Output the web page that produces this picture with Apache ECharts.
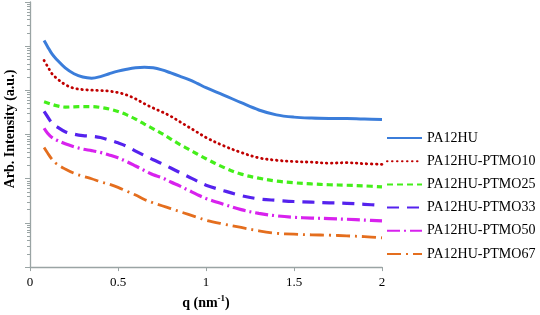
<!DOCTYPE html>
<html><head><meta charset="utf-8">
<script src="https://cdn.jsdelivr.net/npm/echarts@6/dist/echarts.min.js"></script>
<style>html,body{margin:0;padding:0;background:#fff}#c{width:540px;height:315px}</style>
</head><body><div id="c"></div>
<script>
var q = [0.08,0.1,0.125,0.15,0.2,0.25,0.3,0.35,0.4,0.45,0.5,0.55,0.6,0.65,0.7,0.75,0.8,0.85,0.9,0.95,1.0,1.1,1.2,1.3,1.4,1.5,1.6,1.7,1.8,1.9,2.0];
var seriesNames = ['PA12HU','PA12HU-PTMO10','PA12HU-PTMO25','PA12HU-PTMO33','PA12HU-PTMO50','PA12HU-PTMO67'];
var pa12hu = [134000,97500,66800,50700,32200,23800,20000,18900,20500,23800,27300,30100,32400,33300,32500,29100,24800,21000,17700,14400,11500,7850,5250,3600,2790,2480,2360,2310,2300,2250,2190];
var ptmo10 = [47400,34700,23800,19000,13500,11200,10400,10100,9950,9590,8910,7850,6410,4990,3980,3250,2590,1960,1490,1130,855,557,392,297,262,245,237,225,231,219,212];
var ptmo25 = [5520,5200,4820,4510,4180,4250,4290,4290,4120,3780,3330,2790,2230,1730,1350,1050,792,601,468,363,283,181,127,103,88.5,80.9,76.2,73.1,71.3,68.9,65.5];
var ptmo33 = [3330,2530,1820,1530,1160,1020,946,914,855,753,649,543,423,337,269,219,175,139,111,88.5,71.3,53.6,41.6,34.9,32.4,30.5,29.5,28.5,27.8,26.4,24.8];
var ptmo50 = [1390,1070,855,753,617,530,468,434,395,345,297,243,194,154,123,106,84.3,68.9,55.0,43.8,35.8,26.4,20.0,16.4,14.5,13.4,12.9,12.5,12.1,11.6,11.1];
var ptmo67 = [509,382,275,219,166,133,114,100,85.5,75.0,63.8,52.2,42.7,34.0,28.5,24.5,21.1,18.1,15.6,13.4,11.5,9.42,7.89,6.62,5.83,5.55,5.38,5.27,5.09,4.89,4.60];
var xTicks = [0,0.5,1,1.5,2];

var allData = [pa12hu,ptmo10,ptmo25,ptmo33,ptmo50,ptmo67];
var colors = ['#3B7DDA','#C00000','#44EE1A','#5522EE','#D822EE','#E46E1E'];
var styles = [
  {type:'solid', width:3, cap:'butt'},
  {type:[0.5,4.5], width:2.8, cap:'round'},
  {type:[6,4], width:3.2, cap:'butt'},
  {type:[12,8], width:3.2, cap:'butt'},
  {type:[13,4,2,4], width:3.2, cap:'butt'},
  {type:[14,5,2,5], width:2.8, cap:'butt'}
];
function pairs(d){ return q.map(function(x,i){ return [x,d[i]]; }); }
var font = 'Liberation Serif';
var chart = echarts.init(document.getElementById('c'), null, {renderer:'canvas'});
chart.setOption({
  animation:false,
  textStyle:{fontFamily:font},
  grid:{left:30,right:158,top:2,bottom:38},
  legend:{orient:'vertical',left:381,top:126,itemWidth:35,itemHeight:14,itemGap:9.2,
    itemStyle:{opacity:0},
    textStyle:{fontFamily:font,fontSize:14,color:'#000'},data:seriesNames},
  xAxis:{type:'value',min:0,max:2,interval:0.5,
    axisLine:{lineStyle:{color:'#9AA4A4',width:1.3}},
    axisTick:{show:true,length:4,lineStyle:{color:'#9AA4A4'}},
    splitLine:{show:false},
    axisLabel:{color:'#000',fontFamily:font,fontSize:13,margin:9,
      formatter:function(v){ return xTicks.indexOf(v)>=0 ? String(v) : ''; }},
    name:'{a|q (nm}{s|-1}{a|)}',nameLocation:'middle',nameGap:20,
    nameTextStyle:{rich:{
      a:{fontFamily:font,fontSize:14,fontWeight:'bold',color:'#000',lineHeight:16,verticalAlign:'bottom'},
      s:{fontFamily:font,fontSize:9,fontWeight:'bold',color:'#000',lineHeight:10,verticalAlign:'top'}}}},
  yAxis:{type:'log',logBase:10,min:1,max:1000000,splitNumber:6,
    axisLine:{show:true,lineStyle:{color:'#9AA4A4',width:1.3}},
    axisTick:{show:true,length:5,lineStyle:{color:'#9AA4A4'}},
    minorTick:{show:true,splitNumber:9,length:3,lineStyle:{color:'#9AA4A4'}},
    splitLine:{show:false},minorSplitLine:{show:false},
    axisLabel:{show:false}},
  graphic:[{type:'text',x:10,y:129,rotation:Math.PI/2,
    style:{text:'Arb. Intensity (a.u.)',font:'bold 14px "Liberation Serif"',fill:'#000',
      textAlign:'center',textVerticalAlign:'middle'}}],
  series: seriesNames.map(function(n,i){
    return {name:n,type:'line',data:pairs(allData[i]),showSymbol:false,symbol:'none',smooth:0.35,
      color:colors[i],
      lineStyle:{color:colors[i],width:styles[i].width,type:styles[i].type,cap:styles[i].cap}};
  })
});
</script></body></html>
